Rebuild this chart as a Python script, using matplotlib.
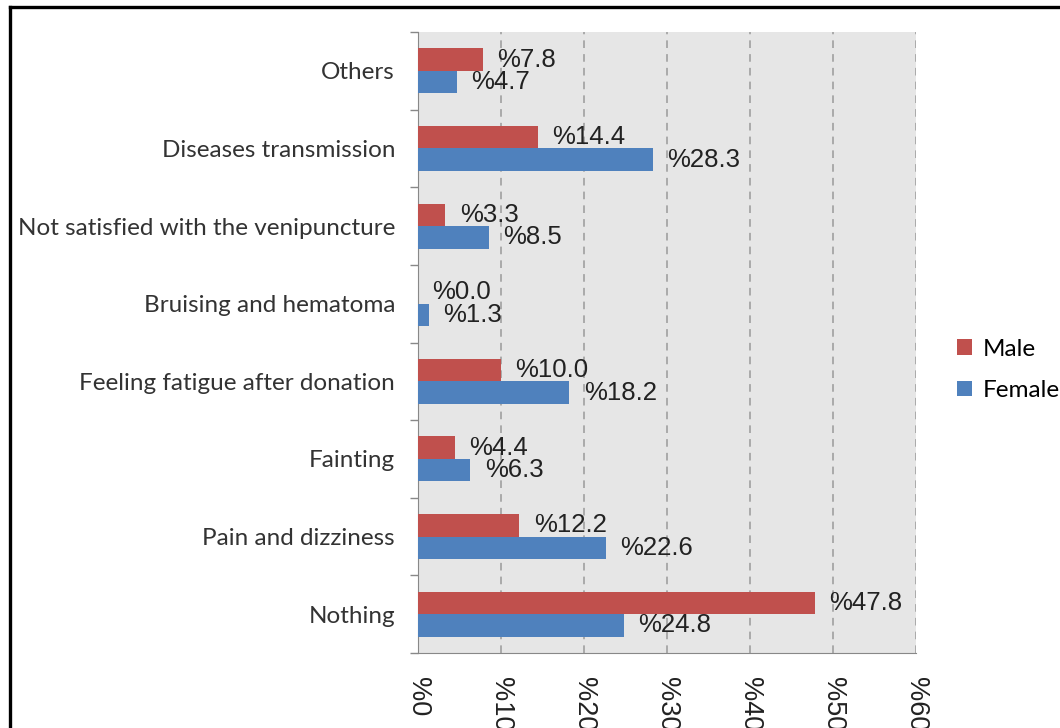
import matplotlib
matplotlib.use("Agg")
import matplotlib.pyplot as plt
from matplotlib.lines import Line2D
import numpy as np

categories = ["Others", "Diseases transmission", "Not satisfied with the venipuncture",
              "Bruising and hematoma", "Feeling fatigue after donation", "Fainting",
              "Pain and dizziness", "Nothing"]
male = [7.8, 14.4, 3.3, 0.0, 10.0, 4.4, 12.2, 47.8]
female = [4.7, 28.3, 8.5, 1.3, 18.2, 6.3, 22.6, 24.8]
xticks = [0, 10, 20, 30, 40, 50, 60]

red = "#C0504D"
blue = "#4F81BD"

fig = plt.figure(figsize=(10.6, 7.28), dpi=100)
ax = fig.add_axes([418 / 1060, 1 - 653 / 728, (916 - 418) / 1060, (653 - 32) / 728])

# top category first
y = np.arange(len(categories))[::-1]
h = 0.29
ax.barh(y + h / 2, male, height=h, color=red, linewidth=0, label="Male", zorder=3)
ax.barh(y - h / 2, female, height=h, color=blue, linewidth=0, label="Female", zorder=3)

for yi, m, f in zip(y, male, female):
    ax.annotate(f"%{m:.1f}", (m, yi + h / 2), xytext=(10.5, 0), textcoords="offset points",
                va="center", ha="left", fontsize=18.5, family="Liberation Sans", color="#222222", zorder=4)
    ax.annotate(f"%{f:.1f}", (f, yi - h / 2), xytext=(10.5, 0), textcoords="offset points",
                va="center", ha="left", fontsize=18.5, family="Liberation Sans", color="#222222", zorder=4)

ax.set_xlim(0, 60)
ax.set_ylim(-0.5, len(categories) - 0.5)
ax.set_facecolor("#E6E6E6")

ax.set_xticks(xticks)
ax.set_xticklabels([f"%{t}" for t in xticks], rotation=-90, fontsize=19.5,
                   family="Liberation Sans", color="#222222", va="top", ha="center")
ax.tick_params(axis="x", length=0, pad=17)
ax.xaxis.grid(True, linestyle=(0, (5, 4)), color="#9a9a9a", linewidth=1.1, zorder=0)
ax.set_axisbelow(True)

ax.set_yticks(y)
ax.set_yticklabels(categories, fontsize=17.5, family="Lato", color="#333333")
ax.set_yticks(np.arange(-0.5, len(categories)), minor=True)
ax.tick_params(axis="y", which="major", length=0, pad=16.5)
ax.tick_params(axis="y", which="minor", length=6, color="#888888", width=1)

for s in ["top", "right"]:
    ax.spines[s].set_visible(False)
ax.spines["left"].set_color("#888888")
ax.spines["bottom"].set_color("#888888")

fig.legend(loc="center left", bbox_to_anchor=(957 / 1060, 1 - 370 / 728), frameon=False,
           prop={"family": "Lato", "size": 17.5}, handlelength=0.6, handleheight=0.6,
           handletextpad=0.45, labelspacing=0.85, borderaxespad=0, borderpad=0)

# picture frame (top and left edges visible)
fig.add_artist(Line2D([10 / 1060, 1], [1 - 7 / 728, 1 - 7 / 728], transform=fig.transFigure,
                      color="black", linewidth=2.4))
fig.add_artist(Line2D([10 / 1060, 10 / 1060], [0, 1 - 7 / 728], transform=fig.transFigure,
                      color="black", linewidth=2.4))

fig.savefig("out.png", dpi=100, facecolor="white")
